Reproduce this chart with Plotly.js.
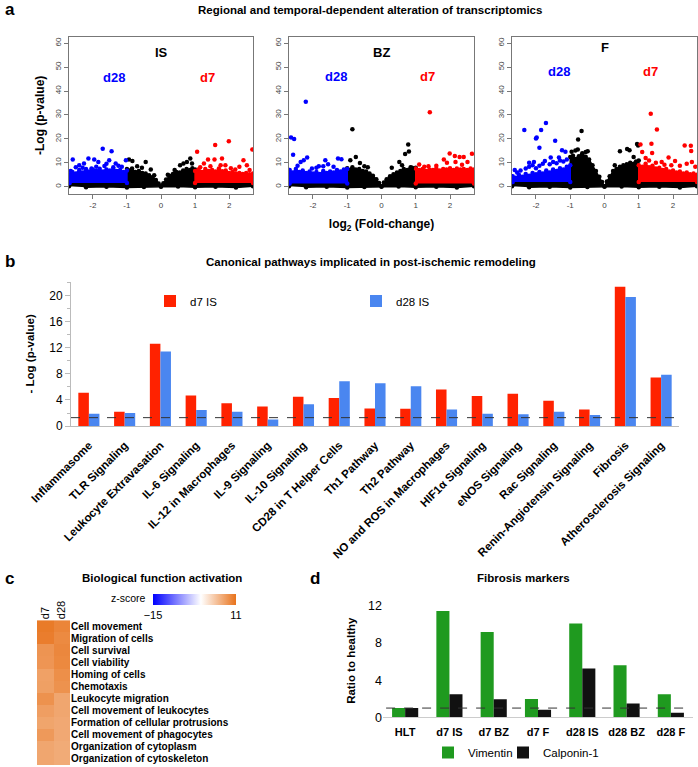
<!DOCTYPE html>
<html>
<head>
<meta charset="utf-8">
<script src="https://cdn.plot.ly/plotly-3.0.1.min.js"></script>
<style>
  html, body { margin: 0; padding: 0; background: #fff; }
  #chart { width: 698px; height: 767px; }
</style>
</head>
<body>
<div id="chart"></div>
<script>
// ---- panel a : volcano plots (dense clouds as outlines, sparse points listed) ----
const envX = [-2.7, -2.7, -1.0, -1.0, -0.92, -0.85, -0.75, -0.65, -0.55, -0.45, -0.35, -0.25, -0.15, -0.07, 0, 0.07, 0.15, 0.25, 0.35, 0.45, 0.55, 0.65, 0.75, 0.85, 0.92, 1.0, 1.0, 2.7, 2.7, 2.2, 1.6, 1.0, 0.5, 0, -0.5, -1.0, -1.6, -2.2];
const downX = [-2.68, -2.68, -2.6, -2.5, -2.4, -2.3, -2.2, -2.1, -2.0, -1.9, -1.8, -1.7, -1.6, -1.5, -1.4, -1.3, -1.2, -1.1, -1.0, -1.0];
const upX = [1.0, 1.0, 1.1, 1.2, 1.3, 1.4, 1.5, 1.6, 1.7, 1.8, 1.9, 2.0, 2.1, 2.2, 2.3, 2.4, 2.5, 2.6, 2.7, 2.7];

// IS
const isNsY = [0.2, 1.6, 1.6, 7.4, 6.8, 7.6, 6.2, 6.6, 5.8, 5.6, 4.8, 4.0, 2.8, 1.4, 0.2, 1.5, 3.0, 4.6, 5.4, 6.2, 6.0, 6.8, 7.4, 7.0, 7.8, 7.2, 1.6, 1.6, 0.2, -0.3, 0.0, -0.2, 0.1, 0, -0.1, -0.3, 0.0, -0.2];
const isDownY = [1.6, 5.0, 6.2, 5.6, 7.0, 6.0, 7.4, 6.4, 7.2, 6.6, 7.5, 6.4, 7.2, 6.8, 7.4, 6.6, 7.0, 6.2, 6.8, 1.6];
const isUpY = [1.6, 6.6, 7.2, 6.2, 7.4, 6.6, 7.0, 6.4, 7.6, 6.5, 6.8, 5.8, 6.2, 5.6, 5.8, 5.4, 5.8, 5.2, 5.6, 1.6];
const isBlueX = [-2.59, -1.71, -1.45, -2.13, -1.96, -2.40, -2.26, -1.84, -1.52, -1.33, -1.03, -1.15, -1.66, -2.04, -2.5, -1.25, -2.3, -1.9, -1.6, -1.4, -2.65];
const isBlueY = [11.4, 15.9, 14.8, 11.8, 11.4, 9.0, 9.7, 10.4, 11.1, 9.7, 11.1, 8.4, 8.7, 7.6, 8.2, 8.8, 8.0, 8.4, 9.6, 8.2, 6.6];
const isBlackX = [-0.94, -0.84, -0.45, -0.56, -0.3, 0.86, 0.76, 0.66, 0.56, 0.91, -0.7, -0.2, 0.2, 0.4];
const isBlackY = [11.4, 10.8, 10.4, 8.0, 7.2, 11.8, 10.4, 9.7, 9.0, 9.7, 8.6, 4.8, 5.0, 7.0];
const isRedX = [1.06, 1.59, 1.99, 2.68, 1.38, 1.57, 1.79, 1.26, 1.89, 2.42, 2.52, 2.18, 1.75, 1.15, 2.3, 1.45, 2.05, 2.6];
const isRedY = [14.6, 17.5, 19.0, 15.6, 11.4, 11.4, 11.8, 9.7, 9.0, 11.1, 9.0, 7.2, 9.0, 8.2, 8.4, 8.6, 7.8, 7.0];

// BZ
const bzNsY = [0.2, 1.4, 1.4, 7.8, 7.0, 8.2, 7.2, 7.4, 6.6, 6.4, 5.6, 4.6, 3.2, 1.6, 0.2, 1.8, 3.2, 4.4, 5.2, 6.0, 6.6, 7.4, 7.0, 8.2, 7.6, 8.0, 1.4, 1.4, 0.2, -0.3, 0, -0.2, 0.1, 0, -0.1, -0.3, 0, -0.2];
const bzDownY = [1.4, 7.0, 6.0, 7.4, 6.2, 6.8, 5.8, 6.4, 5.6, 6.2, 5.4, 6.6, 5.8, 6.4, 6.0, 7.0, 6.4, 7.2, 7.4, 1.4];
const bzUpY = [1.4, 7.6, 7.0, 7.4, 6.6, 7.2, 7.0, 7.6, 6.8, 7.4, 7.2, 7.8, 7.0, 7.6, 7.2, 7.4, 7.0, 7.6, 7.2, 1.4];
const bzBlueX = [-2.21, -2.64, -2.55, -2.58, -2.36, -2.17, -2.27, -1.64, -1.56, -1.27, -1.17, -1.83, -2.03, -1.4, -2.45, -1.9, -1.7];
const bzBlueY = [35.5, 20.6, 20.0, 13.4, 10.4, 12.2, 11.1, 11.1, 9.4, 11.8, 11.5, 8.6, 7.6, 8.4, 8.8, 8.0, 8.6];
const bzBlackX = [-0.85, -0.91, -0.75, -0.63, -0.50, 0.78, 0.80, 0.69, 0.52, 0.89, 0.3, -0.4, 0.6];
const bzBlackY = [24.0, 11.1, 12.5, 9.9, 8.6, 17.7, 14.7, 13.7, 10.4, 8.0, 8.0, 8.2, 9.0];
const bzRedX = [1.41, 1.99, 1.82, 2.14, 2.28, 2.40, 2.64, 1.10, 1.37, 1.91, 2.16, 2.51, 1.6, 1.25, 2.35];
const bzRedY = [31.1, 13.9, 11.4, 12.9, 12.4, 12.4, 13.8, 9.3, 8.6, 10.0, 10.4, 10.4, 8.8, 8.4, 9.2];

// F
const fNsY = [0.2, 2.0, 2.0, 12.4, 13.0, 11.6, 12.8, 14.0, 12.6, 11.4, 9.0, 6.6, 4.2, 2.0, 0.2, 2.2, 4.4, 6.6, 7.4, 8.4, 9.0, 9.4, 10.0, 9.6, 10.6, 11.0, 2.0, 2.0, 0.2, -0.3, 0, -0.2, 0.1, 0, -0.1, -0.3, 0, -0.2];
const fDownY = [2.0, 4.4, 3.8, 5.0, 4.2, 5.4, 4.6, 5.8, 5.2, 6.2, 5.6, 6.8, 6.0, 7.2, 6.6, 7.8, 7.2, 8.4, 9.0, 2.0];
const fUpY = [2.0, 9.0, 8.4, 9.6, 8.2, 8.8, 7.6, 8.0, 7.0, 7.4, 6.4, 6.8, 6.0, 6.4, 5.6, 6.0, 5.2, 5.6, 5.0, 2.0];
const fBlueX = [-2.34, -1.71, -1.85, -1.98, -2.00, -1.90, -1.44, -1.24, -1.33, -1.74, -1.57, -2.06, -1.14, -2.62, -2.55, -2.45, -2.3, -2.2, -2.1, -2.0, -1.9, -1.8, -1.6, -1.5, -1.4, -1.3, -1.2, -1.1, -2.2];
const fBlueY = [23.7, 26.7, 23.7, 20.6, 20.2, 16.3, 19.2, 15.3, 12.2, 10.8, 12.2, 10.4, 14.6, 7.0, 6.0, 6.8, 7.6, 8.4, 9.0, 7.8, 8.8, 9.6, 9.4, 10.4, 9.8, 11.0, 10.6, 11.4, 10.0];
const fBlackX = [-0.67, -0.77, -0.78, -0.49, -0.96, 0.45, 0.66, 0.73, 0.95, 0.98, -0.55, -0.85, 0.85, 0.3];
const fBlackY = [23.3, 19.8, 15.6, 14.9, 14.6, 14.9, 15.8, 15.3, 17.9, 17.3, 14.5, 15.2, 12.4, 9.0];
const fRedX = [1.35, 1.53, 1.37, 1.05, 1.39, 1.87, 2.34, 2.52, 2.53, 2.55, 2.06, 1.67, 1.2, 1.1, 1.3, 1.5, 1.75, 2.2, 2.4, 2.65, 1.95];
const fRedY = [30.5, 23.9, 18.0, 17.7, 14.1, 12.2, 17.3, 17.1, 15.0, 10.4, 10.8, 10.4, 12.0, 14.5, 11.0, 10.0, 9.2, 8.8, 9.6, 8.4, 9.0];

// ---- panel b : canonical pathways ----
const pathways = ["Inflammasome", "TLR Signaling", "Leukocyte Extravasation", "IL-6 Signaling", "IL-12 in Macrophages", "IL-9 Signaling", "IL-10 Signaling", "CD28 in T Helper Cells", "Th1 Pathway", "Th2 Pathway", "NO and ROS in Macrophages", "HIF1α Signaling", "eNOS Signaling", "Rac Signaling", "Renin-Angiotensin Signaling", "Fibrosis", "Atherosclerosis Signaling"];
const d7IS = [5.1, 2.2, 12.6, 4.7, 3.5, 3.0, 4.5, 4.3, 2.7, 2.65, 5.6, 4.6, 4.95, 3.9, 2.55, 21.3, 7.45];
const d28IS = [1.9, 2.0, 11.4, 2.45, 2.2, 1.0, 3.35, 6.85, 6.55, 6.1, 2.55, 1.9, 1.8, 2.2, 1.7, 19.75, 7.85];
const pThreshold = 1.3;

// ---- panel c : biological function activation ----
const functions = ["Cell movement", "Migration of cells", "Cell survival", "Cell viability", "Homing of cells", "Chemotaxis", "Leukocyte migration", "Cell movement of leukocytes", "Formation of cellular protrusions", "Cell movement of phagocytes", "Organization of cytoplasm", "Organization of cytoskeleton"];
const timepoints = ["d7", "d28"];
const zD7 = [10.4, 10.2, 8.4, 8.3, 7.4, 7.5, 8.6, 7.6, 7.1, 8.0, 7.0, 7.0];
const zD28 = [9.6, 9.2, 9.4, 9.3, 8.8, 8.6, 7.0, 7.0, 6.8, 6.8, 6.6, 6.6];
const zMin = -15, zMax = 11;

// ---- panel d : fibrosis markers ----
const groups = ["HLT", "d7 IS", "d7 BZ", "d7 F", "d28 IS", "d28 BZ", "d28 F"];
const vimentin = [1.0, 11.45, 9.2, 1.97, 10.1, 5.6, 2.5];
const calponin = [1.0, 2.5, 1.95, 0.82, 5.25, 1.5, 0.5];
const healthyRatio = 1;

const FONT = "Liberation Sans, Arial, sans-serif";
const W = 698, H = 767;
const px = v => v / W;
const py = v => 1 - v / H;

function cloud(x, y, color, xa, ya) {
  return { x: x, y: y, type: "scatter", mode: "lines+markers", fill: "toself", fillcolor: color,
    line: { color: color, width: 1.5 }, marker: { color: color, size: 4.5 },
    xaxis: xa, yaxis: ya, showlegend: false, hoverinfo: "skip" };
}
function dots(x, y, color, xa, ya) {
  return { x: x, y: y, type: "scatter", mode: "markers", marker: { color: color, size: 4.5 },
    xaxis: xa, yaxis: ya, showlegend: false };
}
const BLUE = "#0000ff", RED = "#ff0000", BLK = "#000000";
const volcanoSets = [
  ["x", "y", isNsY, isDownY, isUpY, isBlueX, isBlueY, isBlackX, isBlackY, isRedX, isRedY],
  ["x2", "y2", bzNsY, bzDownY, bzUpY, bzBlueX, bzBlueY, bzBlackX, bzBlackY, bzRedX, bzRedY],
  ["x3", "y3", fNsY, fDownY, fUpY, fBlueX, fBlueY, fBlackX, fBlackY, fRedX, fRedY]
];
const traces = [];
volcanoSets.forEach(s => {
  const [xa, ya, ns, dn, up, bx, by, kx, ky, rx, ry] = s;
  traces.push(cloud(envX, ns, BLK, xa, ya));
  traces.push(cloud(downX, dn, BLUE, xa, ya));
  traces.push(cloud(upX, up, RED, xa, ya));
  traces.push(dots(kx, ky, BLK, xa, ya));
  traces.push(dots(bx, by, BLUE, xa, ya));
  traces.push(dots(rx, ry, RED, xa, ya));
});

traces.push({ x: pathways, y: d7IS, type: "bar", name: "d7 IS", marker: { color: "#ff2200" }, xaxis: "x4", yaxis: "y4", legend: "legend" });
traces.push({ x: pathways, y: d28IS, type: "bar", name: "d28 IS", marker: { color: "#4a86f0" }, xaxis: "x4", yaxis: "y4", legend: "legend2" });

traces.push({
  type: "heatmap", x: timepoints, y: functions,
  z: functions.map((f, i) => [zD7[i], zD28[i]]),
  zmin: zMin, zmax: zMax, xaxis: "x5", yaxis: "y5",
  colorscale: [[0, "#0000ff"], [15 / 26, "#ffffff"], [1, "#e8731c"]],
  colorbar: { orientation: "h", x: px(194.5), xanchor: "center", y: py(594), yanchor: "top",
    len: 83, lenmode: "pixels", thickness: 11, thicknessmode: "pixels", xpad: 0, ypad: 0,
    tickvals: [zMin, zMax], ticks: "", outlinewidth: 0, tickfont: { size: 11, family: FONT, color: "#000" } }
});

traces.push({ x: groups, y: vimentin, type: "bar", name: "Vimentin", marker: { color: "#1f9a1f" }, xaxis: "x6", yaxis: "y6", legend: "legend3" });
traces.push({ x: groups, y: calponin, type: "bar", name: "Calponin-1", marker: { color: "#111111" }, xaxis: "x6", yaxis: "y6", legend: "legend4" });

function vAxisX(d) {
  return { domain: d, range: [-2.7, 2.7], tickvals: [-2, -1, 0, 1, 2], ticktext: ["-2", "-1", "0", "1", "2"],
    ticks: "outside", ticklen: 4, tickcolor: "#777", tickfont: { size: 8, color: "#444" },
    showline: true, mirror: true, linecolor: "#777", linewidth: 1, zeroline: false, showgrid: false, fixedrange: true };
}
function vAxisY(anchor) {
  return { domain: [py(194), py(37)], range: [-2.9, 62.6], tickvals: [0, 10, 20, 30, 40, 50, 60], tickangle: -90,
    ticks: "outside", ticklen: 4, tickcolor: "#777", tickfont: { size: 8, color: "#444" }, anchor: anchor,
    showline: true, mirror: true, linecolor: "#777", linewidth: 1, zeroline: false, showgrid: false };
}

const bold = s => "<b>" + s + "</b>";
const ann = (x, y, text, size, extra) => Object.assign({ xref: "paper", yref: "paper", x: x, y: y, text: text,
  xanchor: "center", yanchor: "middle", showarrow: false, font: { size: size, family: FONT, color: "#000" } }, extra || {});
const vlab = (xa, ya, x, y, text, color) => ({ xref: xa, yref: ya, x: x, y: y, text: bold(text), showarrow: false,
  font: { size: 13, family: FONT, color: color } });
const leg = (x, y) => ({ orientation: "h", x: px(x), y: py(y), yanchor: "middle", xanchor: "left",
  font: { size: 11.5 }, bgcolor: "rgba(0,0,0,0)" });

const layout = {
  width: W, height: H, margin: { l: 0, r: 0, t: 0, b: 0 }, paper_bgcolor: "#fff", plot_bgcolor: "rgba(0,0,0,0)",
  font: { family: FONT, color: "#000" },
  barmode: "group", bargap: 0.41, bargroupgap: 0,
  xaxis: Object.assign(vAxisX([px(69), px(253)]), { anchor: "y" }),
  yaxis: Object.assign(vAxisY("x"), { title: { text: bold("-Log (p-value)"), font: { size: 12 }, standoff: 6 } }),
  xaxis2: Object.assign(vAxisX([px(289), px(474)]), { anchor: "y2",
    title: { text: bold("log<sub>2</sub> (Fold-change)"), font: { size: 12 }, standoff: 10 } }),
  yaxis2: vAxisY("x2"),
  xaxis3: Object.assign(vAxisX([px(512), px(697)]), { anchor: "y3" }),
  yaxis3: vAxisY("x3"),
  xaxis4: { domain: [px(71), px(679)], anchor: "y4", type: "category", tickangle: -45, ticklabelstandoff: 7,
    tickfont: { size: 11.5, weight: "bold" }, showline: true, linecolor: "#bbb", ticks: "", showgrid: false },
  yaxis4: { domain: [py(426.7), py(282)], anchor: "x4", range: [0, 22.1], tickvals: [0, 4, 8, 12, 16, 20],
    ticks: "outside", ticklen: 5, tickcolor: "#bbb", tickfont: { size: 12 }, showline: true, linecolor: "#bbb",
    showgrid: false, zeroline: false, minor: { tickvals: [2, 6, 10, 14, 18, 22], ticks: "outside", ticklen: 3, tickcolor: "#bbb" },
    title: { text: bold("- Log (p-value)"), font: { size: 11.5 }, standoff: 12 } },
  xaxis5: { domain: [px(37), px(70)], anchor: "y5", side: "top", tickangle: -90, ticks: "", tickfont: { size: 11 },
    showline: false, showgrid: false },
  yaxis5: { domain: [py(766), py(621)], anchor: "x5", side: "right", autorange: "reversed", ticks: "",
    tickfont: { size: 10, weight: "bold" }, showline: false, showgrid: false },
  xaxis6: { domain: [px(383), px(693)], anchor: "y6", type: "category", tickfont: { size: 11, weight: "bold" },
    ticklabelstandoff: 4, showline: true, linecolor: "#ccc", ticks: "", showgrid: false },
  yaxis6: { domain: [py(718.3), py(604.8)], anchor: "x6", range: [0, 12.2], tickvals: [0, 4, 8, 12],
    tickfont: { size: 12.5 }, showline: false, ticks: "", showgrid: false, zeroline: false,
    title: { text: bold("Ratio to healthy"), font: { size: 11.5 }, standoff: 10 } },
  legend: leg(150, 301),
  legend2: leg(356, 301),
  legend3: leg(428, 753),
  legend4: leg(503, 753),
  shapes: [
    { type: "line", xref: "x4 domain", yref: "y4", x0: 0, x1: 0.995, y0: pThreshold, y1: pThreshold,
      line: { color: "#333", width: 1, dash: "dash" } },
    { type: "line", xref: "x6 domain", yref: "y6", x0: 0.01, x1: 0.99, y0: healthyRatio, y1: healthyRatio,
      line: { color: "#333", width: 1, dash: "dash" } }
  ],
  annotations: [
    ann(px(3), py(10), bold("a"), 17, { xanchor: "left" }),
    ann(px(370), py(10), bold("Regional and temporal-dependent alteration of transcriptomics"), 11.5),
    ann(px(3), py(262), bold("b"), 17, { xanchor: "left" }),
    ann(px(371), py(262), bold("Canonical pathways implicated in post-ischemic remodeling"), 11.5),
    ann(px(3), py(579), bold("c"), 17, { xanchor: "left" }),
    ann(px(162), py(579), bold("Biological function activation"), 11.5),
    ann(px(308), py(579), bold("d"), 17, { xanchor: "left" }),
    ann(px(523), py(579), bold("Fibrosis markers"), 11.5),
    ann(px(148), py(599), "z-score", 10.5, { xanchor: "right" }),
    vlab("x", "y", 0, 56, "IS", "#000"), vlab("x", "y", -1.38, 45.5, "d28", BLUE), vlab("x", "y", 1.35, 45.5, "d7", RED),
    vlab("x2", "y2", 0, 56, "BZ", "#000"), vlab("x2", "y2", -1.32, 46, "d28", BLUE), vlab("x2", "y2", 1.34, 46, "d7", RED),
    vlab("x3", "y3", 0, 58, "F", "#000"), vlab("x3", "y3", -1.33, 48, "d28", BLUE), vlab("x3", "y3", 1.34, 48, "d7", RED)
  ]
};

Plotly.newPlot("chart", traces, layout, { staticPlot: true });
</script>
</body>
</html>
